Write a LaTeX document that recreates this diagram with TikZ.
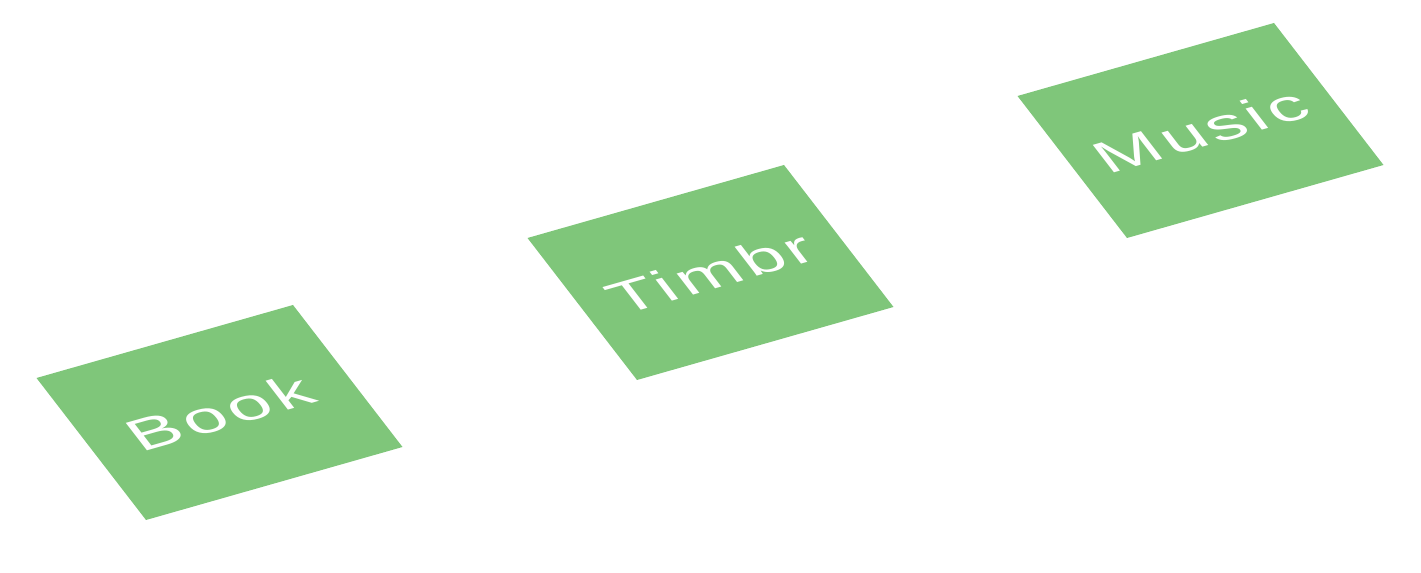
\documentclass[tikz,border=0pt]{standalone}
\usepackage{fontspec}
\setmainfont{Liberation Sans}[LetterSpace=6]
\definecolor{tilegreen}{RGB}{127,198,122}

\begin{document}
\begin{tikzpicture}
\tikzstyle{every node}=[font=\fontsize{16}{19}\selectfont]
\tikzstyle{tile}=[fill=tilegreen, text=white, minimum size=2cm, inner sep=0pt, cm={2.565,0.73,-1.095,1.42,(0,0)}]

\useasboundingbox (0,0) rectangle (28.42,11.46);

\node[tile] (book) at (4.39,3.21) {Book};
\node[tile] (timbr) at (14.21,6.01) {Timbr};
\node[tile] (music) at (24.01,8.85) {Music};

\end{tikzpicture}
\end{document}
